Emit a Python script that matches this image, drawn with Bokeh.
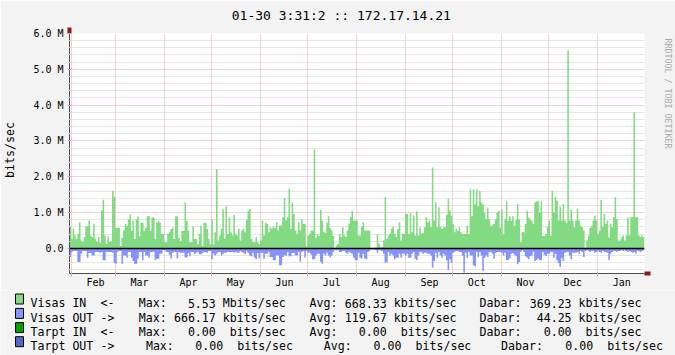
import numpy as np
from bokeh.plotting import figure
from bokeh.models import Range1d, FixedTicker, Span, LinearAxis, Grid
from bokeh.core.properties import value
from bokeh.embed import file_html
from bokeh.resources import INLINE

# ---------------- data: daily averages, Mbit/s -------------
visas_in = (
    [0.61, 0.27, 0.55, 0.36, 0.27, 0.41, 0.73, 0.22, 0.18, 0.31, 0.61, 0.61, 0.78, 0.36, 0.31,
     0.69, 0.27, 0.18, 0.31, 0.16, 1.06, 1.36, 0.36, 0.13, 0.33, 0.18, 0.20, 1.61, 1.44, 0.57]
    + [0.58, 0.58, 0.07, 0.30, 0.50, 0.68, 0.63, 0.81, 0.95, 0.49, 0.77, 0.26, 0.81, 0.90, 0.35,
       0.72, 0.72, 0.49, 0.58, 0.90, 0.90, 0.49, 0.86, 0.86, 0.26, 0.72, 0.77, 0.72, 0.40, 0.40, 0.17]
    + [0.17, 0.40, 0.45, 0.54, 0.58, 0.26, 0.90, 0.90, 0.30, 0.21, 0.49, 0.49, 1.28, 0.77, 0.49,
       0.17, 0.17, 0.61, 0.26, 0.26, 0.12, 0.40, 0.63, 0.07, 0.72, 0.72, 0.54, 0.26, 0.12]
    + [0.82, 0.11, 0.45, 2.22, 0.22, 0.36, 0.55, 1.10, 0.27, 1.17, 0.40, 0.87, 0.45, 0.36, 0.93,
       0.41, 0.36, 0.55, 0.22, 0.50, 0.55, 0.45, 0.80, 1.05, 1.10, 0.27, 0.17, 0.17, 0.31, 0.17, 0.12]
    + [0.22, 0.78, 0.36, 0.72, 0.68, 0.45, 0.59, 0.55, 0.61, 0.57, 0.73, 0.50, 0.64, 0.64, 0.87,
       1.41, 0.78, 0.87, 1.66, 0.55, 1.28, 0.96, 0.50, 0.41, 0.73, 0.50, 0.82, 0.68, 0.68, 0.06]
    + [0.36, 0.41, 0.50, 0.50, 2.77, 0.30, 0.40, 0.35, 1.08, 0.77, 0.46, 0.44, 0.72, 0.90, 0.58,
       0.50, 0.35, 0.00, 0.08, 0.13, 0.40, 0.32, 0.59, 0.36, 0.32, 0.50, 0.69, 0.87, 1.05, 0.78, 0.78]
    + [0.78, 0.36, 0.36, 0.59, 0.73, 0.50, 0.50, 0.50, 0.50, 0.00, 0.00, 0.02, 0.02, 0.40, 0.13,
       0.05, 0.03, 0.22, 1.43, 0.27, 0.36, 0.41, 0.55, 0.61, 0.41, 0.32, 0.55, 0.73, 0.22, 0.41, 0.41]
    + [0.96, 0.96, 0.40, 0.98, 0.45, 0.92, 0.36, 1.04, 0.36, 0.59, 0.41, 0.43, 0.59, 0.87, 0.73,
       0.78, 0.59, 2.26, 0.78, 1.29, 0.59, 1.15, 0.61, 0.55, 0.59, 0.59, 0.94, 1.38, 1.06, 0.92]
    + [0.68, 0.45, 0.55, 0.49, 0.59, 0.45, 0.40, 0.40, 0.40, 0.63, 0.40, 1.65, 0.90, 1.65, 1.23,
       1.65, 1.18, 1.60, 1.28, 1.23, 1.00, 0.81, 1.14, 0.81, 0.63, 0.63, 0.68, 0.81, 1.00, 1.05, 0.58]
    + [1.09, 0.40, 0.81, 1.32, 0.77, 0.90, 0.77, 0.90, 0.63, 0.81, 1.23, 0.81, 0.17, 0.46, 0.45,
       0.68, 1.05, 0.86, 0.81, 0.77, 0.68, 1.28, 1.32, 1.32, 1.00, 1.32, 0.35, 0.35, 0.40, 0.60]
    + [0.78, 0.36, 1.61, 1.00, 1.44, 1.33, 0.78, 1.17, 0.78, 1.24, 0.78, 0.70, 5.53, 0.78, 1.08,
       0.78, 0.59, 0.78, 1.11, 0.78, 0.64, 0.59, 0.50, 0.00, 0.22, 0.36, 0.57, 0.61, 0.78, 0.92, 0.78]
    + [0.40, 0.50, 1.35, 0.60, 0.96, 0.69, 0.78, 0.31, 0.69, 0.59, 0.87, 1.43, 0.82, 0.22, 0.22,
       0.31, 0.36, 0.22, 0.36, 0.87, 0.36, 0.87, 0.87, 3.80, 0.87, 0.87, 0.36, 0.31, 0.36, 0.31]
)

visas_out = (
    [0.24, 0.10, 0.07, 0.07, 0.07, 0.38, 0.38, 0.15, 0.07, 0.07, 0.07, 0.26, 0.13, 0.13, 0.20,
     0.20, 0.10, 0.10, 0.10, 0.12, 0.10, 0.33, 0.33, 0.10, 0.10, 0.10, 0.10, 0.12, 0.41, 0.43]
    + [0.10, 0.07, 0.07, 0.43, 0.20, 0.20, 0.26, 0.10, 0.10, 0.26, 0.35, 0.43, 0.43, 0.29, 0.10,
       0.10, 0.32, 0.10, 0.20, 0.20, 0.26, 0.10, 0.10, 0.10, 0.32, 0.29, 0.29, 0.15, 0.15, 0.05, 0.05]
    + [0.10, 0.10, 0.18, 0.28, 0.12, 0.10, 0.10, 0.28, 0.10, 0.13, 0.12, 0.12, 0.25, 0.25, 0.13,
       0.22, 0.10, 0.10, 0.16, 0.12, 0.10, 0.16, 0.16, 0.13, 0.10, 0.10, 0.12, 0.07, 0.07]
    + [0.30, 0.15, 0.20, 0.15, 0.10, 0.10, 0.20, 0.15, 0.12, 0.12, 0.10, 0.10, 0.10, 0.10, 0.12,
       0.10, 0.12, 0.12, 0.07, 0.10, 0.12, 0.16, 0.08, 0.13, 0.20, 0.22, 0.12, 0.25, 0.30, 0.13, 0.28]
    + [0.12, 0.12, 0.29, 0.15, 0.15, 0.10, 0.24, 0.24, 0.33, 0.33, 0.20, 0.20, 0.47, 0.47, 0.24,
       0.20, 0.20, 0.10, 0.22, 0.22, 0.13, 0.13, 0.20, 0.20, 0.10, 0.37, 0.10, 0.07, 0.25, 0.07]
    + [0.12, 0.12, 0.18, 0.30, 0.30, 0.20, 0.15, 0.15, 0.37, 0.43, 0.15, 0.20, 0.12, 0.20, 0.25,
       0.20, 0.10, 0.04, 0.05, 0.05, 0.10, 0.10, 0.07, 0.07, 0.12, 0.15, 0.10, 0.12, 0.15, 0.25, 0.33]
    + [0.33, 0.12, 0.26, 0.28, 0.15, 0.28, 0.30, 0.10, 0.07, 0.03, 0.03, 0.03, 0.05, 0.12, 0.05,
       0.05, 0.08, 0.15, 0.41, 0.38, 0.10, 0.20, 0.15, 0.20, 0.30, 0.26, 0.26, 0.15, 0.25, 0.15, 0.15]
    + [0.20, 0.15, 0.26, 0.26, 0.15, 0.10, 0.29, 0.33, 0.20, 0.10, 0.10, 0.15, 0.12, 0.12, 0.15,
       0.15, 0.20, 0.54, 0.35, 0.12, 0.26, 0.10, 0.20, 0.26, 0.15, 0.20, 0.33, 0.61, 0.30, 0.40]
    + [0.12, 0.10, 0.07, 0.07, 0.10, 0.10, 0.20, 0.67, 0.12, 0.26, 0.10, 0.20, 0.20, 0.47, 0.50,
       0.10, 0.24, 0.10, 0.20, 0.63, 0.26, 0.20, 0.24, 0.10, 0.10, 0.15, 0.29, 0.13, 0.10, 0.10, 0.10]
    + [0.12, 0.20, 0.12, 0.32, 0.32, 0.28, 0.15, 0.13, 0.18, 0.22, 0.44, 0.38, 0.10, 0.05, 0.10,
       0.22, 0.25, 0.30, 0.22, 0.20, 0.10, 0.35, 0.32, 0.28, 0.32, 0.33, 0.10, 0.18, 0.22, 0.15]
    + [0.15, 0.10, 0.10, 0.26, 0.15, 0.33, 0.41, 0.52, 0.26, 0.35, 0.12, 0.10, 0.10, 0.20, 0.30,
       0.12, 0.12, 0.12, 0.10, 0.15, 0.07, 0.10, 0.24, 0.07, 0.05, 0.07, 0.10, 0.07, 0.07, 0.12, 0.10]
    + [0.07, 0.10, 0.12, 0.07, 0.10, 0.10, 0.12, 0.32, 0.15, 0.10, 0.07, 0.07, 0.10, 0.07, 0.07,
       0.05, 0.07, 0.05, 0.07, 0.10, 0.07, 0.10, 0.12, 0.10, 0.15, 0.07, 0.07, 0.10, 0.07, 0.05]
)

# day index (0 = first day shown) of each month start, and month names
month_starts = [1, 29, 60, 90, 121, 151, 182, 213, 243, 274, 304, 335]
month_names = ["Feb", "Mar", "Apr", "May", "Jun", "Jul", "Aug", "Sep", "Oct", "Nov", "Dec", "Jan"]

y_ticks = [0, 1, 2, 3, 4, 5, 6]
y_tick_labels = ["0.0", "1.0 M", "2.0 M", "3.0 M", "4.0 M", "5.0 M", "6.0 M"]

title_text = "01-30 3:31:2 :: 172.17.14.21"
y_label = "bits/sec"
watermark = "RRDTOOL / TOBI OETIKER"

legend_names = ["Visas IN", "Visas OUT", "Tarpt IN", "Tarpt OUT"]
legend_dirs = ["<-", "->", "<-", "->"]
legend_max = ["5.53", "666.17", "0.00", "0.00"]
legend_max_pfx = ["M", "k", "", ""]
legend_avg = ["668.33", "119.67", "0.00", "0.00"]
legend_avg_pfx = ["k", "k", "", ""]
legend_cur = ["369.23", "44.25", "0.00", "0.00"]
legend_cur_pfx = ["k", "k", "", ""]
legend_colors = ["#82DA82", "#8494FC", "#00A000", "#4C6CC4"]

# ---------------- styling / layout ----------------
W, H = 675, 355
HM = 290                                   # height of the graph part
FL, FR, FT, FB = 67, 645, 33, 273          # plot frame (page pixels)
X0, X1, Y0, Y1 = 0, 365, -0.7, 6.0
BACK = "#F3F3F3"
MGRID = "#E4A6A6"
GRID = "#CDCDCD"
AXIS = "#505050"
ARROW = "#8B1A1A"
FONT = "DejaVu Sans Mono"
NB = "\u00a0"
IN_COLOR = legend_colors[0]
OUT_COLOR = legend_colors[1]

p = figure(width=W, height=HM, output_backend="svg", toolbar_location=None,
           x_range=Range1d(X0, X1), y_range=Range1d(Y0, Y1),
           x_axis_type=None, y_axis_type=None,
           min_border_left=FL, min_border_right=W - FR,
           min_border_top=FT, min_border_bottom=HM - FB,
           background_fill_color="#FFFFFF", border_fill_color=BACK,
           outline_line_color=None)

y_minor = [round(k * 0.2, 1) for k in range(-3, 31) if k % 5 != 0]
label_pos = [s + 15.5 for s in month_starts]

# grids
p.add_layout(Grid(dimension=0, ticker=FixedTicker(ticks=month_starts),
                  grid_line_color=MGRID, grid_line_dash="1 1", grid_line_width=1))
p.add_layout(Grid(dimension=1, ticker=FixedTicker(ticks=y_ticks, minor_ticks=y_minor),
                  grid_line_color=MGRID, grid_line_dash="1 1",
                  minor_grid_line_color=GRID, minor_grid_line_dash="1 1"))

# data areas
xs_in = list(range(len(visas_in) + 1))
p.varea_step(x=xs_in, y1=[0] * len(xs_in), y2=visas_in + visas_in[-1:],
             step_mode="after", fill_color=IN_COLOR)
xs_out = list(range(len(visas_out) + 1))
neg_out = [-v for v in visas_out]
p.varea_step(x=xs_out, y1=[0] * len(xs_out), y2=neg_out + neg_out[-1:],
             step_mode="after", fill_color=OUT_COLOR)

p.add_layout(Span(location=0, dimension="width", line_color="black", line_width=1.5))

# ---- axes ----
yaxis = LinearAxis(ticker=FixedTicker(ticks=y_ticks, minor_ticks=y_minor),
                   major_label_overrides={t: s for t, s in zip(y_ticks, y_tick_labels)},
                   axis_line_color=AXIS, axis_line_width=1,
                   major_tick_in=2, major_tick_out=2, major_tick_line_color=MGRID,
                   minor_tick_in=1, minor_tick_out=1, minor_tick_line_color=GRID,
                   major_label_standoff=4, major_label_text_font=FONT,
                   major_label_text_font_size="10px", major_label_text_color="black",
                   axis_label=NB + y_label, axis_label_standoff=13,
                   axis_label_text_font=FONT, axis_label_text_font_size="11.6px",
                   axis_label_text_font_style="normal", axis_label_text_color="black")
p.add_layout(yaxis, "left")

xaxis = LinearAxis(ticker=FixedTicker(ticks=label_pos, minor_ticks=month_starts),
                   major_label_overrides={t: s for t, s in zip(label_pos, month_names)},
                   axis_line_color=AXIS, axis_line_width=1,
                   major_tick_line_color=None, major_tick_in=0, major_tick_out=0,
                   minor_tick_in=2, minor_tick_out=3, minor_tick_line_color=MGRID,
                   major_label_standoff=0, major_label_text_font=FONT,
                   major_label_text_font_size="10px", major_label_text_color="black")
p.add_layout(xaxis, "below")


def text_axis(label, size, standoff, tick_at, color="black"):
    # an axis used only for its label; its single thick tick at the frame corner
    # forms the arrow head at the end of the graph's axis
    return LinearAxis(ticker=FixedTicker(ticks=[tick_at]), axis_line_color=None,
                      major_tick_line_color=ARROW, major_tick_line_width=4,
                      major_tick_in=0, major_tick_out=6,
                      minor_tick_line_color=None, minor_tick_in=0, minor_tick_out=0,
                      major_label_overrides={tick_at: ""}, major_label_standoff=0,
                      major_label_text_font_size="1px",
                      axis_label=label, axis_label_standoff=standoff,
                      axis_label_text_font=FONT, axis_label_text_font_size=size,
                      axis_label_text_font_style="normal", axis_label_text_color=color)


# title above the frame (trailing no-break spaces shift it left of centre)
p.add_layout(text_axis(title_text + NB * 4, "13px", 5, X0), "above")
# vertical watermark on the right (trailing no-break spaces push it upwards)
p.add_layout(text_axis(watermark + NB * 24, "8.3px", 12, Y0, "#A8A8A8"), "right")

# ---------------- legend strip below the graph (pixel coordinates) ----------------
lg = figure(width=W, height=H - HM, output_backend="svg", toolbar_location=None,
            x_range=Range1d(0, W), y_range=Range1d(H, HM),
            x_axis_type=None, y_axis_type=None, min_border=0,
            background_fill_color=BACK, border_fill_color=BACK, outline_line_color=None)

ADV = 7.0
LF = "11.6px"
row_base = [302.7, 317.1, 331.3, 345.4]
col_sets = [
    # max_lbl, max_end, avg_lbl, avg_end, cur_lbl, cur_end
    (138.2, 215.3, 309.0, 386.2, 479.0, 571.1),
    (138.2, 215.3, 309.0, 386.2, 479.0, 571.1),
    (138.2, 215.3, 309.0, 386.2, 479.0, 571.1),
    (145.4, 222.7, 323.3, 401.0, 500.6, 592.7),
]
lx, ly, lt = [], [], []
rx, ry, rt = [], [], []
for i in range(4):
    yb = row_base[i]
    lx += [30, 30 + 10 * ADV]
    ly += [yb, yb]
    lt += [legend_names[i], legend_dirs[i]]
    ml, me, al, ae, cl, ce = col_sets[i]
    for lbl, lpos, num, ne, pfx in (("Max:", ml, legend_max[i], me, legend_max_pfx[i]),
                                    ("Avg:", al, legend_avg[i], ae, legend_avg_pfx[i]),
                                    ("Dabar:", cl, legend_cur[i], ce, legend_cur_pfx[i])):
        lx += [lpos, ne + ADV + (0 if pfx else ADV)]
        ly += [yb, yb]
        lt += [lbl, pfx + "bits/sec"]
        rx.append(ne)
        ry.append(yb)
        rt.append(num)

lg.rect(x=[19] * 4, y=[b - 4.2 for b in row_base], width=8, height=10,
        fill_color=legend_colors, line_color="black", line_width=1)
lg.text(x=lx, y=ly, text=lt, text_font=value(FONT), text_font_size=value(LF),
        text_baseline="alphabetic", text_align="left", text_color="black")
lg.text(x=rx, y=ry, text=rt, text_font=value(FONT), text_font_size=value(LF),
        text_baseline="alphabetic", text_align="right", text_color="black")

open("out.html", "w").write(file_html([p, lg], INLINE))
